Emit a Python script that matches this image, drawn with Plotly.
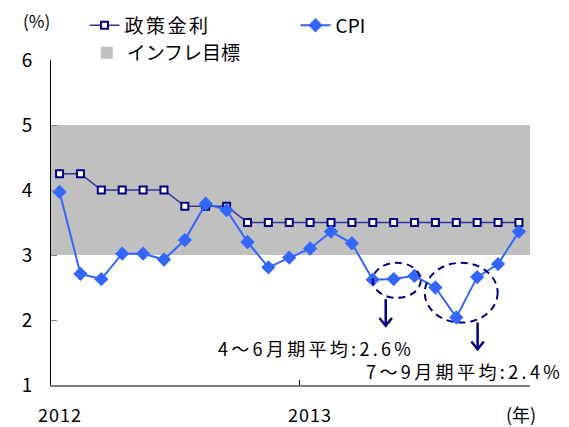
import plotly.graph_objects as go

# 2012年1月～2013年11月（月次）
months = list(range(23))
policy_rate = [4.25, 4.25, 4.0, 4.0, 4.0, 4.0, 3.75, 3.75, 3.75,
               3.5, 3.5, 3.5, 3.5, 3.5, 3.5, 3.5, 3.5, 3.5, 3.5, 3.5, 3.5, 3.5, 3.5]
cpi = [3.97, 2.71, 2.63, 3.02, 3.02, 2.93, 3.23, 3.79, 3.69, 3.2, 2.81, 2.96,
       3.1, 3.36, 3.18, 2.62, 2.63, 2.68, 2.5, 2.04, 2.66, 2.86, 3.36]
target_low, target_high = 3, 5
year_labels = ["2012", "2013"]
year_pos = [0, 12]
notes = ["4～6月期平均:2.6%", "7～9月期平均:2.4%"]

JP = "Noto Sans CJK JP"
NAVY = "#000080"
BLUE = "#3366ff"
x_range = [-0.41, 22.53]


def spaced(s, px=3):
    return f'<span style="letter-spacing:{px}px">{s}</span>'


fig = go.Figure()

# インフレ目標のバンド（凡例付きの矩形）
fig.add_shape(type="rect", xref="x domain", yref="y", x0=0, x1=1,
              y0=target_low, y1=target_high, layer="below",
              fillcolor="#c0c0c0", line=dict(width=0),
              showlegend=True, legend="legend2", name="インフレ目標")

fig.add_trace(go.Scatter(
    x=months, y=policy_rate, mode="lines+markers", name=spaced("政策金利", 2.5),
    line=dict(color="#333399", width=1.5),
    marker=dict(symbol="square", size=7, color="white",
                line=dict(color=NAVY, width=2))))

fig.add_trace(go.Scatter(
    x=months, y=cpi, mode="lines+markers", name="CPI",
    line=dict(color=BLUE, width=2),
    marker=dict(symbol="diamond", size=11, color=BLUE)))

# 点線の楕円と矢印
ell = dict(type="circle", xref="x", yref="y",
           line=dict(color=NAVY, width=2, dash="7px,5px"))
fig.add_shape(x0=15.0, x1=17.3, y0=2.34, y1=2.88, **ell)
fig.add_shape(x0=17.49, x1=20.98, y0=1.96, y1=2.88, **ell)

arr = dict(type="path", xref="x", yref="y", line=dict(color=NAVY, width=2.5))
for ax, ytop, ytip in [(15.62, 2.32, 1.91), (20.02, 1.96, 1.55)]:
    fig.add_shape(path=f"M{ax},{ytop} L{ax},{ytip}", **arr)
    fig.add_shape(path=f"M{ax - 0.3},{ytip + 0.12} L{ax},{ytip} L{ax + 0.3},{ytip + 0.12}", **arr)

fig.add_annotation(x=12.28, y=1.57, text=spaced(notes[0], 3.3), showarrow=False,
                   font=dict(family=JP, size=18, color="black"))
fig.add_annotation(x=19.37, y=1.22, text=spaced(notes[1], 3.4), showarrow=False,
                   font=dict(family=JP, size=18, color="black"))

# 年ラベル
for lab, pos in zip(year_labels, year_pos):
    fig.add_annotation(x=pos, y=-0.09, yref="paper", yanchor="middle",
                       text=spaced(lab, 1), showarrow=False,
                       font=dict(family=JP, size=18, color="black"))
fig.add_annotation(x=22.1, y=-0.09, yref="paper", yanchor="middle",
                   text="(年)", showarrow=False,
                   font=dict(family=JP, size=18, color="black"))
fig.add_annotation(x=-0.031, y=1.122, xref="paper", yref="paper",
                   xanchor="center", yanchor="middle",
                   text="(%)", showarrow=False,
                   font=dict(family=JP, size=17, color="black"))

fig.update_layout(
    template="none",
    width=561, height=419,
    margin=dict(l=43, r=39, t=52, b=42, autoexpand=False),
    plot_bgcolor="white", paper_bgcolor="white",
    font=dict(family=JP, size=18, color="black"),
    showlegend=True,
    legend=dict(orientation="h", x=0.07, y=1.165, xanchor="left", yanchor="top",
                entrywidth=166, font=dict(family=JP, size=19),
                bgcolor="rgba(0,0,0,0)", traceorder="normal"),
    legend2=dict(orientation="h", x=0.0745, y=1.08, xanchor="left", yanchor="top",
                 font=dict(family=JP, size=19), bgcolor="rgba(0,0,0,0)"),
    xaxis=dict(range=x_range, showgrid=False, zeroline=False, automargin=False,
               showline=True, linecolor="#808080", linewidth=2,
               tickvals=[11.5], ticktext=[""], ticks="inside", ticklen=5,
               tickcolor="black"),
    yaxis=dict(range=[1, 6], dtick=1, showgrid=False, zeroline=False, automargin=False,
               showline=True, linecolor="black", linewidth=1,
               ticks="inside", ticklen=6, tickcolor="#808080",
               ticklabelstandoff=14, tickfont=dict(family=JP, size=19)),
)

fig.write_html("out.html")
